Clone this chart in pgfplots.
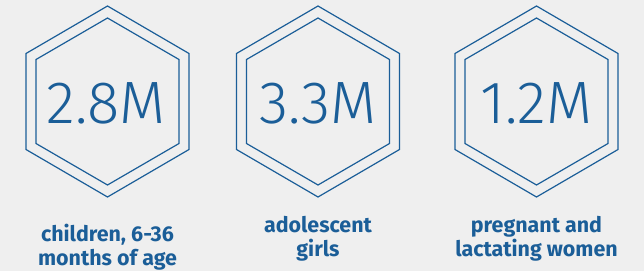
\documentclass[border=0pt]{standalone}
\usepackage{fontspec}
\setmainfont{Fira Sans}
\newfontfamily\lightfont{Fira Sans Light}
\usepackage{pgfplots}
\pgfplotsset{compat=1.18}
\definecolor{hexblue}{HTML}{1B5E98}
\definecolor{bg}{HTML}{EFEFEF}
\begin{document}
\begin{tikzpicture}
\begin{axis}[width=644bp,height=271bp,scale only axis,
  xmin=0,xmax=644,ymin=0,ymax=271,y dir=reverse,hide axis,clip=false]
\addplot[fill=bg,draw=none] coordinates {(0,0)(644,0)(644,271)(0,271)} -- cycle;
% hexagon 1
\addplot[hexblue,line width=1.2bp] coordinates {(107.5,6)(189,53.5)(189,149.5)(107.5,197)(26,149.5)(26,53.5)} -- cycle;
\addplot[hexblue,line width=1.2bp] coordinates {(107.5,18)(179,59.5)(179,143.5)(107.5,185)(36,143.5)(36,59.5)} -- cycle;
% hexagon 2
\addplot[hexblue,line width=1.2bp] coordinates {(318,6)(399.5,53.5)(399.5,149.5)(318,197)(236.5,149.5)(236.5,53.5)} -- cycle;
\addplot[hexblue,line width=1.2bp] coordinates {(318,18)(389.5,59.5)(389.5,143.5)(318,185)(246.5,143.5)(246.5,59.5)} -- cycle;
% hexagon 3
\addplot[hexblue,line width=1.2bp] coordinates {(536.5,6)(618,53.5)(618,149.5)(536.5,197)(455,149.5)(455,53.5)} -- cycle;
\addplot[hexblue,line width=1.2bp] coordinates {(536.5,18)(608,59.5)(608,143.5)(536.5,185)(465,143.5)(465,59.5)} -- cycle;
% numbers
\node[text=hexblue,anchor=base,inner sep=0pt,font=\lightfont\fontsize{60}{62}\selectfont] at (axis cs:106,123) {2.8M};
\node[text=hexblue,anchor=base,inner sep=0pt,font=\lightfont\fontsize{60}{62}\selectfont] at (axis cs:318,123) {3.3M};
\node[text=hexblue,anchor=base,inner sep=0pt,font=\lightfont\fontsize{60}{62}\selectfont] at (axis cs:536.5,123) {1.2M};
% labels
\node[text=hexblue,anchor=base,inner sep=0pt,font=\bfseries\fontsize{21.5}{24}\selectfont] at (axis cs:107.5,241) {children, 6-36};
\node[text=hexblue,anchor=base,inner sep=0pt,font=\bfseries\fontsize{21.5}{24}\selectfont] at (axis cs:107.5,265) {months of age};
\node[text=hexblue,anchor=base,inner sep=0pt,font=\bfseries\fontsize{21.5}{24}\selectfont] at (axis cs:318,232) {adolescent};
\node[text=hexblue,anchor=base,inner sep=0pt,font=\bfseries\fontsize{21.5}{24}\selectfont] at (axis cs:318,256) {girls};
\node[text=hexblue,anchor=base,inner sep=0pt,font=\bfseries\fontsize{21.5}{24}\selectfont] at (axis cs:536.5,232) {pregnant and};
\node[text=hexblue,anchor=base,inner sep=0pt,font=\bfseries\fontsize{21.5}{24}\selectfont] at (axis cs:536.5,256) {lactating women};
\end{axis}
\end{tikzpicture}
\end{document}
